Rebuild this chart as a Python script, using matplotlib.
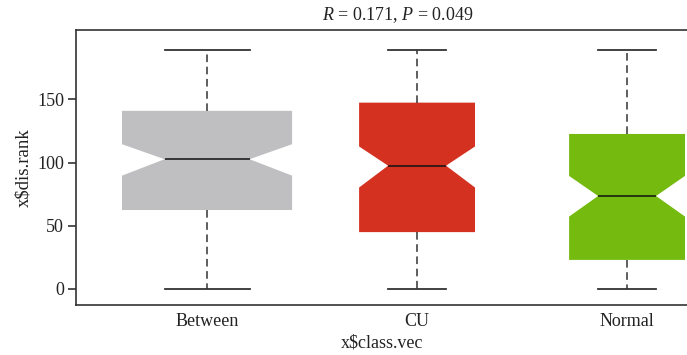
import matplotlib
matplotlib.use("Agg")
import matplotlib.pyplot as plt

plt.rcParams['font.family'] = ['Liberation Serif', 'DejaVu Serif']
plt.rcParams['mathtext.fontset'] = 'custom'
plt.rcParams['mathtext.rm'] = 'Liberation Serif'
plt.rcParams['mathtext.it'] = 'Liberation Serif:italic'

# summary statistics of dis.rank per class
classes = ['Between', 'CU', 'Normal']
q1 = [62.5, 45.0, 23.0]
med = [102.7, 97.6, 73.6]
q3 = [141.0, 147.5, 122.7]
whislo = [0, 0, 0]
whishi = [189, 189, 189]
cilo = [89.7, 80.3, 57.3]
cihi = [114.6, 112.8, 89.5]
colors = ['#bfbec0', '#d53121', '#75ba0e']
box_widths = [0.81, 0.552, 0.552]

stats = []
for i, name in enumerate(classes):
    stats.append({
        'label': name,
        'q1': q1[i], 'med': med[i], 'q3': q3[i],
        'whislo': whislo[i], 'whishi': whishi[i],
        'cilo': cilo[i], 'cihi': cihi[i],
        'fliers': [],
    })

fig = plt.figure(figsize=(6.87, 3.55), dpi=100)
ax = fig.add_axes([76 / 687, 50 / 355, 684 / 687, 275 / 355])

bp = ax.bxp(stats, positions=[1, 2, 3], widths=box_widths,
            shownotches=True, patch_artist=True, showfliers=False,
            boxprops=dict(edgecolor='none', linewidth=0),
            medianprops=dict(color='#111111', linewidth=1.1),
            whiskerprops=dict(color='#333333', linewidth=1.1,
                              linestyle=(0, (5, 3))),
            capprops=dict(color='#333333', linewidth=1.3))
for patch, c in zip(bp['boxes'], colors):
    patch.set_facecolor(c)

ax.set_xlim(0.376, 3.633)
ax.set_ylim(-12.7, 205)
ax.set_yticks([0, 50, 100, 150])
ax.tick_params(axis='y', length=5.5, width=1.1, pad=3, labelsize=13,
               colors='#222222')
ax.tick_params(axis='x', length=0, pad=6, labelsize=13, colors='#222222')
ax.spines['right'].set_visible(False)
for s in ['left', 'top', 'bottom']:
    ax.spines[s].set_linewidth(1.2)
    ax.spines[s].set_color('#333333')

fig.text(398 / 687, 1 - 15 / 355, r'$R$ = 0.171, $P$ = 0.049',
         ha='center', va='center', fontsize=13, color='#222222')
fig.text(382 / 687, 1 - 343 / 355, 'x$class.vec',
         ha='center', va='center', fontsize=13, color='#222222')
fig.text(24 / 687, 1 - 168 / 355, 'x$dis.rank', rotation=90,
         ha='center', va='center', fontsize=13.5, color='#222222')

fig.savefig('out.png', dpi=100)
